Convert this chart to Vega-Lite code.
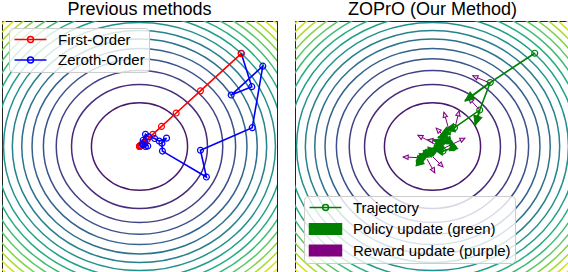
{
  "$schema": "https://vega.github.io/schema/vega-lite/v6.json",
  "padding": {"left": 1, "top": 0, "right": 0, "bottom": 0},
  "spacing": 16,
  "resolve": {"scale": {"color": "independent"}, "legend": {"color": "independent"}},
  "config": {
    "view": {"stroke": "#222222", "strokeWidth": 1},
    "title": {"fontSize": 18, "font": "Liberation Sans", "fontWeight": "normal", "color": "#000000", "offset": 2},
    "legend": {"labelFont": "Liberation Sans", "labelFontSize": 15, "labelColor": "#000000", "fillColor": "rgba(255,255,255,0.8)", "strokeColor": "#cccccc", "cornerRadius": 4, "padding": 4, "rowPadding": 4.5, "labelOffset": 30, "symbolSize": 144, "symbolStrokeWidth": 1.5}
  },
  "datasets": {
    "contours": [
      {"cx": 0, "cy": 0, "level": 1.1}, {"cx": 0, "cy": 0, "level": 2.2}, {"cx": 0, "cy": 0, "level": 3.3}, {"cx": 0, "cy": 0, "level": 4.4},
      {"cx": 0, "cy": 0, "level": 5.5}, {"cx": 0, "cy": 0, "level": 6.6}, {"cx": 0, "cy": 0, "level": 7.7}, {"cx": 0, "cy": 0, "level": 8.8},
      {"cx": 0, "cy": 0, "level": 9.9}, {"cx": 0, "cy": 0, "level": 11.0}, {"cx": 0, "cy": 0, "level": 12.1}, {"cx": 0, "cy": 0, "level": 13.2},
      {"cx": 0, "cy": 0, "level": 14.3}, {"cx": 0, "cy": 0, "level": 15.4}, {"cx": 0, "cy": 0, "level": 16.5}, {"cx": 0, "cy": 0, "level": 17.6}
    ],
    "methods": [
      {"method": "Zeroth-Order", "step": 0, "x": 2.22, "y": 2.23},
      {"method": "Zeroth-Order", "step": 1, "x": 2.45, "y": 1.43},
      {"method": "Zeroth-Order", "step": 2, "x": 2.0, "y": 1.23},
      {"method": "Zeroth-Order", "step": 3, "x": 2.69, "y": 1.92},
      {"method": "Zeroth-Order", "step": 4, "x": 2.46, "y": 0.45},
      {"method": "Zeroth-Order", "step": 5, "x": 1.33, "y": -0.09},
      {"method": "Zeroth-Order", "step": 6, "x": 1.46, "y": -0.73},
      {"method": "Zeroth-Order", "step": 7, "x": 0.5, "y": -0.11},
      {"method": "Zeroth-Order", "step": 8, "x": 0.49, "y": 0.08},
      {"method": "Zeroth-Order", "step": 9, "x": 0.59, "y": 0.2},
      {"method": "Zeroth-Order", "step": 10, "x": 0.43, "y": 0.13},
      {"method": "Zeroth-Order", "step": 11, "x": 0.33, "y": 0.19},
      {"method": "Zeroth-Order", "step": 12, "x": 0.2, "y": 0.23},
      {"method": "Zeroth-Order", "step": 13, "x": 0.13, "y": 0.29},
      {"method": "Zeroth-Order", "step": 14, "x": 0.08, "y": 0.15},
      {"method": "Zeroth-Order", "step": 15, "x": 0.18, "y": 0.01},
      {"method": "Zeroth-Order", "step": 16, "x": 0.11, "y": 0.11},
      {"method": "Zeroth-Order", "step": 17, "x": 0.13, "y": 0.0},
      {"method": "Zeroth-Order", "step": 18, "x": 0.06, "y": 0.06},
      {"method": "Zeroth-Order", "step": 19, "x": 0.09, "y": 0.04},
      {"method": "First-Order", "step": 0, "x": 2.22, "y": 2.22},
      {"method": "First-Order", "step": 1, "x": 1.33, "y": 1.33},
      {"method": "First-Order", "step": 2, "x": 0.8, "y": 0.8},
      {"method": "First-Order", "step": 3, "x": 0.48, "y": 0.48},
      {"method": "First-Order", "step": 4, "x": 0.29, "y": 0.29},
      {"method": "First-Order", "step": 5, "x": 0.17, "y": 0.17},
      {"method": "First-Order", "step": 6, "x": 0.1, "y": 0.1},
      {"method": "First-Order", "step": 7, "x": 0.062, "y": 0.062},
      {"method": "First-Order", "step": 8, "x": 0.037, "y": 0.037},
      {"method": "First-Order", "step": 9, "x": 0.022, "y": 0.022},
      {"method": "First-Order", "step": 10, "x": 0.013, "y": 0.013},
      {"method": "First-Order", "step": 11, "x": 0.008, "y": 0.008},
      {"method": "First-Order", "step": 12, "x": 0.005, "y": 0.005},
      {"method": "First-Order", "step": 13, "x": 0.003, "y": 0.003},
      {"method": "First-Order", "step": 14, "x": 0.002, "y": 0.002},
      {"method": "First-Order", "step": 15, "x": 0.001, "y": 0.001}
    ],
    "trajectory": [
      {"series": "Trajectory", "step": 0, "x": 2.23, "y": 2.23},
      {"series": "Trajectory", "step": 1, "x": 1.26, "y": 1.53},
      {"series": "Trajectory", "step": 2, "x": 1.03, "y": 0.87},
      {"series": "Trajectory", "step": 3, "x": 0.48, "y": 0.45},
      {"series": "Trajectory", "step": 4, "x": 0.34, "y": 0.37},
      {"series": "Trajectory", "step": 5, "x": 0.25, "y": 0.23},
      {"series": "Trajectory", "step": 6, "x": 0.45, "y": -0.03},
      {"series": "Trajectory", "step": 7, "x": 0.23, "y": -0.11},
      {"series": "Trajectory", "step": 8, "x": 0.01, "y": -0.11},
      {"series": "Trajectory", "step": 9, "x": -0.14, "y": -0.18},
      {"series": "Trajectory", "step": 10, "x": -0.25, "y": -0.27},
      {"series": "Trajectory", "step": 11, "x": -0.1, "y": -0.13},
      {"series": "Trajectory", "step": 12, "x": 0.1, "y": 0.01},
      {"series": "Trajectory", "step": 13, "x": 0.32, "y": 0.13},
      {"series": "Trajectory", "step": 14, "x": 0.16, "y": -0.04},
      {"series": "Trajectory", "step": 15, "x": -0.21, "y": -0.25},
      {"series": "Trajectory", "step": 16, "x": -0.29, "y": -0.35}
    ],
    "policy": [
      {"series": "Policy update (green)", "x": 1.26, "y": 1.53, "x2": 0.71, "y2": 1.09},
      {"series": "Policy update (green)", "x": 1.03, "y": 0.87, "x2": 0.93, "y2": 0.51},
      {"series": "Policy update (green)", "x": 0.48, "y": 0.45, "x2": 0.28, "y2": 0.4},
      {"series": "Policy update (green)", "x": 0.34, "y": 0.37, "x2": 0.17, "y2": 0.27},
      {"series": "Policy update (green)", "x": 0.25, "y": 0.23, "x2": 0.12, "y2": 0.22},
      {"series": "Policy update (green)", "x": 0.45, "y": -0.03, "x2": 0.41, "y2": 0.14},
      {"series": "Policy update (green)", "x": 0.23, "y": -0.11, "x2": 0.03, "y2": -0.07},
      {"series": "Policy update (green)", "x": 0.01, "y": -0.11, "x2": -0.1, "y2": -0.02},
      {"series": "Policy update (green)", "x": -0.14, "y": -0.18, "x2": -0.29, "y2": -0.27},
      {"series": "Policy update (green)", "x": -0.1, "y": -0.13, "x2": -0.2, "y2": -0.1},
      {"series": "Policy update (green)", "x": 0.1, "y": 0.01, "x2": 0.02, "y2": -0.05},
      {"series": "Policy update (green)", "x": -0.21, "y": -0.25, "x2": -0.23, "y2": -0.4},
      {"series": "Policy update (green)", "x": -0.29, "y": -0.35, "x2": -0.32, "y2": -0.22},
      {"series": "Policy update (green)", "x": 0.16, "y": 0.11, "x2": 0.01, "y2": 0.16},
      {"series": "Policy update (green)", "x": 0.32, "y": 0.13, "x2": 0.2, "y2": 0.1}
    ],
    "reward": [
      {"series": "Reward update (purple)", "x": 1.25, "y": 1.52, "x2": 0.88, "y2": 1.69},
      {"series": "Reward update (purple)", "x": 1.03, "y": 0.87, "x2": 0.79, "y2": 1.16},
      {"series": "Reward update (purple)", "x": 0.49, "y": 0.44, "x2": 0.58, "y2": 0.85},
      {"series": "Reward update (purple)", "x": 0.36, "y": 0.39, "x2": 0.25, "y2": 0.82},
      {"series": "Reward update (purple)", "x": 0.25, "y": 0.25, "x2": 0.08, "y2": 0.44},
      {"series": "Reward update (purple)", "x": 0.05, "y": 0.06, "x2": -0.32, "y2": 0.27},
      {"series": "Reward update (purple)", "x": 0.25, "y": -0.04, "x2": 0.71, "y2": 0.2},
      {"series": "Reward update (purple)", "x": -0.25, "y": -0.27, "x2": -0.64, "y2": -0.25},
      {"series": "Reward update (purple)", "x": 0.01, "y": -0.25, "x2": 0.23, "y2": -0.49},
      {"series": "Reward update (purple)", "x": -0.12, "y": -0.3, "x2": 0.05, "y2": -0.63},
      {"series": "Reward update (purple)", "x": 0.16, "y": 0.11, "x2": -0.1, "y2": 0.16}
    ]
  },
  "hconcat": [
    {
      "width": 275,
      "height": 251,
      "title": "Previous methods",
      "layer": [
        {
          "data": {"name": "contours"},
          "mark": {"type": "point", "shape": "M1,0A1,0.9127,0,1,1,-1,0A1,0.9127,0,1,1,1,0Z", "filled": false, "clip": true, "strokeWidth": 1.5, "opacity": 1},
          "encoding": {
            "x": {"field": "cx", "type": "quantitative", "scale": {"domain": [-3, 3], "nice": false, "zero": false}, "axis": null},
            "y": {"field": "cy", "type": "quantitative", "scale": {"domain": [-3, 3], "nice": false, "zero": false}, "axis": null},
            "size": {"field": "level", "type": "quantitative", "scale": {"domain": [0, 17.6], "range": [0, 147875], "zero": true}, "legend": null},
            "stroke": {"field": "level", "type": "quantitative", "scale": {"scheme": "viridis", "domain": [0, 17.6]}, "legend": null}
          }
        },
        {
          "data": {"name": "methods"},
          "mark": {"type": "line", "strokeWidth": 1.6, "clip": true, "point": {"filled": false, "size": 35, "strokeWidth": 1.2, "opacity": 1}},
          "encoding": {
            "x": {"field": "x", "type": "quantitative", "axis": null},
            "y": {"field": "y", "type": "quantitative", "axis": null},
            "order": {"field": "step"},
            "color": {
              "field": "method", "type": "nominal",
              "scale": {"domain": ["First-Order", "Zeroth-Order"], "range": ["#ff0000", "#0000ff"]},
              "legend": {
                "title": null, "orient": "top-left", "offset": 7,
                "symbolType": "M-1,0L4.33,0M2.17,0A0.5,0.5,0,1,1,1.17,0A0.5,0.5,0,1,1,2.17,0",
                "encode": {"symbols": {"update": {"fill": {"value": "transparent"}, "opacity": {"value": 1}}}}
              }
            }
          }
        }
      ]
    },
    {
      "width": 275,
      "height": 251,
      "title": "ZOPrO (Our Method)",
      "resolve": {"scale": {"color": "shared"}, "legend": {"color": "shared"}},
      "layer": [
        {
          "data": {"name": "contours"},
          "mark": {"type": "point", "shape": "M1,0A1,0.9127,0,1,1,-1,0A1,0.9127,0,1,1,1,0Z", "filled": false, "clip": true, "strokeWidth": 1.5, "opacity": 1},
          "encoding": {
            "x": {"field": "cx", "type": "quantitative", "scale": {"domain": [-3, 3], "nice": false, "zero": false}, "axis": null},
            "y": {"field": "cy", "type": "quantitative", "scale": {"domain": [-3, 3], "nice": false, "zero": false}, "axis": null},
            "size": {"field": "level", "type": "quantitative", "scale": {"domain": [0, 17.6], "range": [0, 147875], "zero": true}, "legend": null},
            "stroke": {"field": "level", "type": "quantitative", "scale": {"scheme": "viridis", "domain": [0, 17.6]}, "legend": null}
          }
        },
        {
          "data": {"name": "reward"},
          "mark": {"type": "rule", "strokeWidth": 1, "clip": true},
          "encoding": {
            "x": {"field": "x", "type": "quantitative", "axis": null},
            "y": {"field": "y", "type": "quantitative", "axis": null},
            "x2": {"field": "x2"},
            "y2": {"field": "y2"},
            "color": {"field": "series", "type": "nominal"}
          }
        },
        {
          "data": {"name": "reward"},
          "transform": [{"calculate": "atan2((datum.x2-datum.x)*1.096, datum.y2-datum.y)*180/PI", "as": "angle"}],
          "mark": {"type": "point", "shape": "M0,0L-0.45,1L0.45,1Z", "filled": true, "fill": "#ecd2ec", "stroke": "#800080", "strokeWidth": 1, "size": 100, "opacity": 1, "clip": true},
          "encoding": {
            "x": {"field": "x2", "type": "quantitative", "axis": null},
            "y": {"field": "y2", "type": "quantitative", "axis": null},
            "angle": {"field": "angle", "type": "quantitative", "scale": null}
          }
        },
        {
          "data": {"name": "trajectory"},
          "mark": {"type": "line", "strokeWidth": 1.6, "clip": true, "point": {"filled": false, "size": 35, "strokeWidth": 1.2, "opacity": 1}},
          "encoding": {
            "x": {"field": "x", "type": "quantitative", "axis": null},
            "y": {"field": "y", "type": "quantitative", "axis": null},
            "order": {"field": "step"},
            "color": {
              "field": "series", "type": "nominal",
              "scale": {"domain": ["Trajectory", "Policy update (green)", "Reward update (purple)"], "range": ["#008000", "#008000", "#800080"]},
              "legend": {
                "title": null, "orient": "bottom-left", "offset": 9,
                "symbolType": "M-1,0L4.33,0M2.17,0A0.5,0.5,0,1,1,1.17,0A0.5,0.5,0,1,1,2.17,0",
                "encode": {"symbols": {"update": {
                  "shape": {"signal": "datum.value === 'Trajectory' ? 'M-1,0L4.33,0M2.17,0A0.5,0.5,0,1,1,1.17,0A0.5,0.5,0,1,1,2.17,0' : 'M-1,-0.88L4.33,-0.88L4.33,0.88L-1,0.88Z'"},
                  "fill": {"signal": "datum.value === 'Trajectory' ? 'transparent' : (datum.value === 'Policy update (green)' ? '#008000' : '#800080')"},
                  "stroke": {"signal": "datum.value === 'Reward update (purple)' ? '#800080' : '#008000'"},
                  "opacity": {"value": 1}
                }}}
              }
            }
          }
        },
        {
          "data": {"name": "policy"},
          "mark": {"type": "rule", "strokeWidth": 2, "clip": true},
          "encoding": {
            "x": {"field": "x", "type": "quantitative", "axis": null},
            "y": {"field": "y", "type": "quantitative", "axis": null},
            "x2": {"field": "x2"},
            "y2": {"field": "y2"},
            "color": {"field": "series", "type": "nominal"}
          }
        },
        {
          "data": {"name": "policy"},
          "transform": [{"calculate": "atan2((datum.x2-datum.x)*1.096, datum.y2-datum.y)*180/PI", "as": "angle"}],
          "mark": {"type": "point", "shape": "M0,0L-0.45,1L0.45,1Z", "filled": true, "fill": "#008000", "stroke": "#008000", "strokeWidth": 1, "size": 350, "opacity": 1, "clip": true},
          "encoding": {
            "x": {"field": "x2", "type": "quantitative", "axis": null},
            "y": {"field": "y2", "type": "quantitative", "axis": null},
            "angle": {"field": "angle", "type": "quantitative", "scale": null}
          }
        }
      ]
    }
  ]
}
